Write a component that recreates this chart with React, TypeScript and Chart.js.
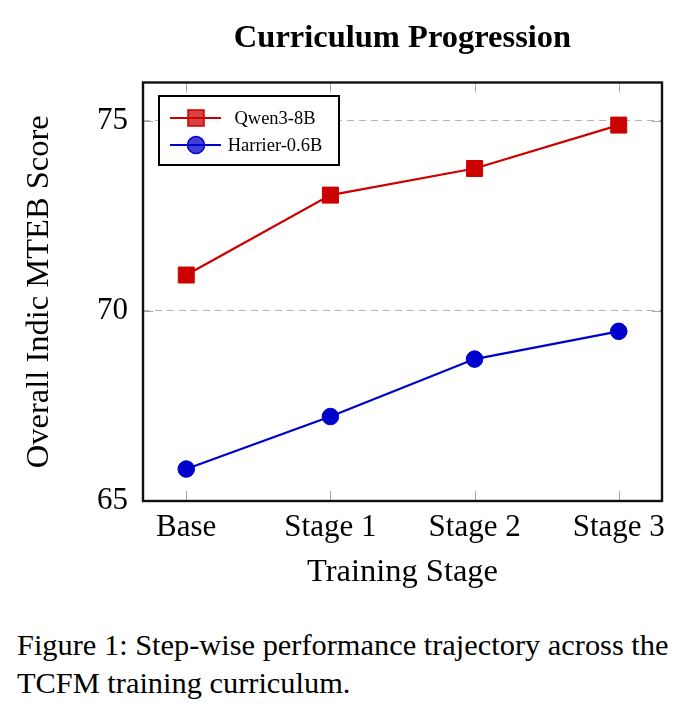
import React, { useEffect, useRef } from "react";
import { Chart, registerables } from "chart.js";

Chart.register(...registerables);

const stageLabels = ["Base", "Stage 1", "Stage 2", "Stage 3"];
const stagePositions = [0, 1, 2, 3];
const qwenScores = [70.94, 73.04, 73.74, 74.88];
const harrierScores = [65.84, 67.22, 68.73, 69.46];
const yTickValues = [65, 70, 75];
const seriesNames = ["Qwen3-8B", "Harrier-0.6B"];

const SERIF = '"Liberation Serif", "Times New Roman", Times, serif';
const RED = "#cc0000";
const BLUE = "#0000cc";

// pgfplots-style frame: inner tick marks, black box and a boxed legend
const framePlugin = {
  id: "frame",
  beforeDatasetsDraw(chart: any) {
    const { ctx, chartArea: a, scales } = chart;
    ctx.save();
    ctx.strokeStyle = "#a8a8a8";
    ctx.lineWidth = 1;
    ctx.beginPath();
    scales.x.ticks.forEach((t: any) => {
      const px = Math.round(scales.x.getPixelForValue(t.value)) + 0.5;
      ctx.moveTo(px, a.bottom);
      ctx.lineTo(px, a.bottom - 10);
      ctx.moveTo(px, a.top);
      ctx.lineTo(px, a.top + 10);
    });
    scales.y.ticks.forEach((t: any) => {
      const py = Math.round(scales.y.getPixelForValue(t.value)) + 0.5;
      ctx.moveTo(a.left, py);
      ctx.lineTo(a.left + 10, py);
      ctx.moveTo(a.right, py);
      ctx.lineTo(a.right - 10, py);
    });
    ctx.stroke();
    ctx.restore();
  },
  afterDatasetsDraw(chart: any) {
    const { ctx, chartArea: a } = chart;
    ctx.save();
    ctx.strokeStyle = "#111";
    ctx.lineWidth = 2.4;
    ctx.strokeRect(a.left, a.top, a.right - a.left, a.bottom - a.top);

    // legend box
    const lx = a.left + 16;
    const ly = a.top + 13.5;
    ctx.fillStyle = "#fff";
    ctx.fillRect(lx, ly, 180, 69);
    ctx.strokeStyle = "#000";
    ctx.lineWidth = 2;
    ctx.strokeRect(lx, ly, 180, 69);

    chart.data.datasets.forEach((ds: any, i: number) => {
      const ry = ly + 22 + i * 27;
      const mx = lx + 37;
      ctx.strokeStyle = ds.borderColor;
      ctx.lineWidth = 2.2;
      ctx.beginPath();
      ctx.moveTo(lx + 11, ry);
      ctx.lineTo(lx + 62, ry);
      ctx.stroke();

      ctx.fillStyle = ds.legendFill;
      ctx.lineWidth = 1.5;
      ctx.beginPath();
      if (ds.pointStyle === "rect") {
        ctx.rect(mx - 8, ry - 8, 16, 16);
      } else {
        ctx.arc(mx, ry, 8.5, 0, Math.PI * 2);
      }
      ctx.fill();
      ctx.stroke();

      ctx.fillStyle = "#000";
      ctx.font = `18.5px ${SERIF}`;
      ctx.textAlign = "center";
      ctx.textBaseline = "middle";
      ctx.fillText(ds.label, lx + 116, ry + 1);
    });
    ctx.restore();
  },
};

const CurriculumChart = () => {
  const canvasRef = useRef<HTMLCanvasElement>(null);
  const chartRef = useRef<Chart | null>(null);

  useEffect(() => {
    const canvas = canvasRef.current;
    if (chartRef.current) {
      chartRef.current.destroy();
    }
    if (!canvas) return;

    Chart.defaults.font.family = SERIF;
    Chart.defaults.color = "#000";

    chartRef.current = new Chart(canvas, {
      type: "line",
      data: {
        datasets: [
          {
            label: seriesNames[0],
            data: stagePositions.map((x, i) => ({ x, y: qwenScores[i] })),
            borderColor: RED,
            backgroundColor: RED,
            borderWidth: 2.2,
            pointStyle: "rect",
            pointRadius: 11.3,
            pointBorderWidth: 1,
            tension: 0,
            legendFill: "rgba(204, 0, 0, 0.75)",
          } as any,
          {
            label: seriesNames[1],
            data: stagePositions.map((x, i) => ({ x, y: harrierScores[i] })),
            borderColor: BLUE,
            backgroundColor: BLUE,
            borderWidth: 2.2,
            pointStyle: "circle",
            pointRadius: 8.3,
            pointBorderWidth: 1,
            tension: 0,
            legendFill: "rgba(0, 0, 204, 0.75)",
          } as any,
        ],
      },
      options: {
        animation: false,
        responsive: true,
        maintainAspectRatio: false,
        layout: { padding: { left: 0, right: 26, top: 0, bottom: 0 } },
        scales: {
          x: {
            type: "linear",
            position: "bottom",
            min: -0.3,
            max: 3.3,
            afterBuildTicks: (scale: any) => {
              scale.ticks = stagePositions.map((v) => ({ value: v }));
            },
            afterFit: (scale: any) => {
              scale.height = 109;
            },
            ticks: {
              font: { size: 31 },
              padding: 0,
              callback: (value: any) => stageLabels[value] ?? "",
            },
            grid: { display: false },
            border: { display: false },
            title: {
              display: true,
              text: "Training Stage",
              font: { size: 32.5 },
              padding: { top: 0, bottom: 18.5 },
            },
          },
          top: {
            type: "linear",
            position: "top",
            afterFit: (scale: any) => {
              scale.height = 82.5;
            },
            ticks: { display: false },
            grid: { display: false },
            border: { display: false },
            title: {
              display: true,
              text: "Curriculum Progression",
              font: { size: 32.5, weight: "bold" },
              padding: { top: 19, bottom: 0 },
            },
          },
          y: {
            type: "linear",
            position: "left",
            min: 65,
            max: 76,
            afterBuildTicks: (scale: any) => {
              scale.ticks = yTickValues.map((v) => ({ value: v }));
            },
            afterFit: (scale: any) => {
              scale.width = 143;
            },
            ticks: {
              font: { size: 31 },
              padding: 15,
            },
            grid: {
              color: "#b4b4b4",
              lineWidth: 1,
              drawTicks: false,
            },
            border: { display: false, dash: [7, 5] },
            title: {
              display: true,
              text: "Overall Indic MTEB Score",
              font: { size: 32.5 },
              padding: { top: 20, bottom: 0 },
            },
          },
        },
        plugins: {
          legend: { display: false },
          title: { display: false },
          tooltip: { enabled: false },
        },
      },
      plugins: [framePlugin],
    });

    return () => {
      if (chartRef.current) {
        chartRef.current.destroy();
        chartRef.current = null;
      }
    };
  }, []);

  return <canvas ref={canvasRef} />;
};

export default function App() {
  return (
    <div
      style={{
        position: "absolute",
        left: 0,
        top: 0,
        width: 688,
        height: 712,
        background: "#fff",
        overflow: "hidden",
      }}
    >
      <div style={{ position: "absolute", left: 0, top: 0, width: 688, height: 610 }}>
        <CurriculumChart />
      </div>
      <div
        style={{
          position: "absolute",
          left: 17,
          top: 626,
          fontFamily: SERIF,
          fontSize: 30.4,
          lineHeight: "38px",
          color: "#000",
          whiteSpace: "nowrap",
        }}
      >
        Figure 1: Step-wise performance trajectory across the
        <br />
        TCFM training curriculum.
      </div>
    </div>
  );
}
